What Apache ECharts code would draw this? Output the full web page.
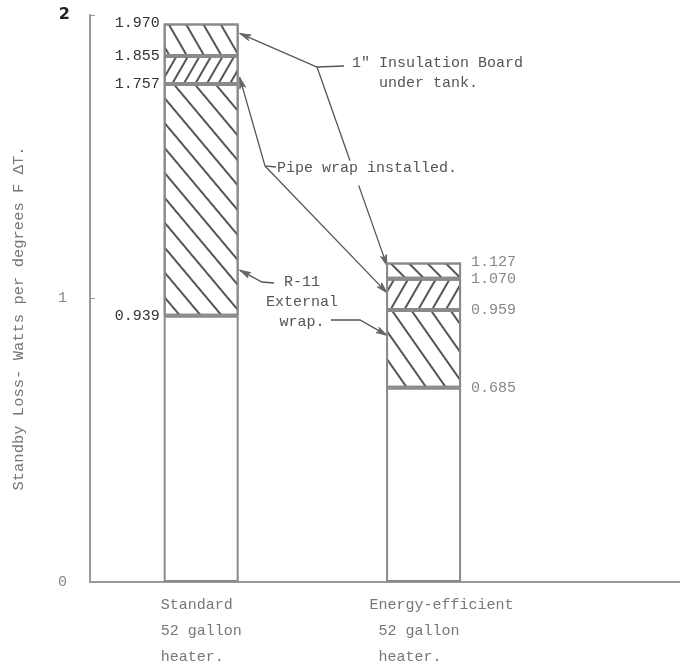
<!DOCTYPE html>
<html>
<head>
<meta charset="utf-8">
<script src="https://cdn.jsdelivr.net/npm/echarts@6/dist/echarts.min.js"></script>
<style>html,body{margin:0;padding:0;background:#fff}#c{width:680px;height:661px}</style>
</head>
<body>
<div id="c"></div>
<script>
// ---- data ----
const categories = ['', 'Standard\n52 gallon\nheater.', '', '', 'Energy-efficient\n52 gallon\nheater.', '', '', ''];
const layerNames = ['Base', 'R-11 External wrap', 'Pipe wrap installed', '1" Insulation Board under tank'];
const standardLevels = [0.939, 1.757, 1.855, 1.970];
const efficientLevels = [0.685, 0.959, 1.070, 1.127];
const standardIndex = 1;
const efficientIndex = 4;
const yTicks = [0, 1, 2];

const FONT = 'Liberation Mono';
const chart = echarts.init(document.getElementById('c'));
const BAR_W = 75;

// deg > 0 : "\" lines, deg < 0 : "/" lines
function hatch(deg, gap) {
  return {
    symbol: 'rect', symbolSize: 1,
    dashArrayX: [1, 0], dashArrayY: [1.3, gap],
    rotation: deg * Math.PI / 180,
    color: '#555'
  };
}
// hatch styles per layer [standard, efficient]
const hatches = [
  [null, null],
  [hatch(50, 14), hatch(55, 14)],
  [hatch(-60, 8), hatch(-60, 10)],
  [hatch(60, 13), hatch(45, 11)]
];

function segs(levels) {
  return levels.map((v, i) => +(v - (i ? levels[i - 1] : 0)).toFixed(3));
}
const stdSeg = segs(standardLevels), effSeg = segs(efficientLevels);

const series = layerNames.map((name, li) => {
  const data = categories.map(() => '-');
  data[standardIndex] = {
    value: stdSeg[li],
    itemStyle: hatches[li][0] ? { decal: hatches[li][0] } : {},
    label: {
      show: true, formatter: standardLevels[li].toFixed(3), position: [-4, 0],
      align: 'right', verticalAlign: 'middle', fontFamily: FONT, fontSize: 15, color: '#333'
    }
  };
  data[efficientIndex] = {
    value: effSeg[li],
    itemStyle: hatches[li][1] ? { decal: hatches[li][1] } : {},
    label: {
      show: true, formatter: efficientLevels[li].toFixed(3), position: ['100%', 0], offset: [10, 0],
      align: 'left', verticalAlign: 'middle', fontFamily: FONT, fontSize: 15, color: '#888'
    }
  };
  return {
    name, type: 'bar', stack: 'loss', barWidth: BAR_W, data,
    itemStyle: { color: '#fff', borderColor: '#8a8a8a', borderWidth: 2 },
    emphasis: { disabled: true }
  };
});

chart.setOption({
  animation: false,
  backgroundColor: '#fff',
  grid: { left: 90, top: 15, bottom: 79, width: 593, containLabel: false, outerBoundsMode: 'none' },
  xAxis: {
    type: 'category', data: categories,
    axisLine: { lineStyle: { color: '#999', width: 2 } },
    axisTick: { show: false },
    axisLabel: {
      interval: 0, margin: 10, lineHeight: 26,
      fontFamily: FONT, fontSize: 15, color: '#777',
      formatter: (v) => {
        if (!v) return '';
        const lines = v.split('\n');
        const w = Math.max(...lines.map(l => l.length));
        if (v.startsWith('Energy')) {
          return lines.map((l, i) => '{e|' + ((i ? ' ' : '') + l).padEnd(w) + '}').join('\n');
        }
        return lines.map(l => '{s|' + l.padEnd(w) + '}').join('\n');
      },
      rich: {
        s: { fontFamily: FONT, fontSize: 15, color: '#777', lineHeight: 26 },
        e: { fontFamily: FONT, fontSize: 15, color: '#777', lineHeight: 26, padding: [0, 0, 0, 36] }
      }
    }
  },
  yAxis: {
    type: 'value', min: yTicks[0], max: yTicks[yTicks.length - 1], interval: 1,
    name: 'Standby Loss- Watts per degrees F ΔT.',
    nameLocation: 'middle', nameGap: 63, nameRotate: 90,
    nameTextStyle: { fontFamily: FONT, fontSize: 15.5, color: '#777', padding: [0, 40, 0, 0] },
    axisLine: { show: true, lineStyle: { color: '#999', width: 2 } },
    axisTick: { show: true, inside: true, length: 5, lineStyle: { color: '#999' } },
    splitLine: { show: false },
    axisLabel: {
      margin: 20,
      formatter: (v) => v === 2 ? '{b|2}' : '{n|' + v + '}',
      rich: {
        b: { fontFamily: 'DejaVu Sans', fontWeight: 'bold', fontSize: 16, color: '#222' },
        n: { fontFamily: FONT, fontSize: 15, color: '#888', padding: [0, 3, 0, 0] }
      }
    }
  },
  series
});

// ---- annotations (anchored to bar geometry) ----
function px(cat, v) { return chart.convertToPixel({ gridIndex: 0 }, [cat, v]); }
const stdR = px(standardIndex, 0)[0] + BAR_W / 2;
const effL = px(efficientIndex, 0)[0] - BAR_W / 2;
const Y = (v) => px(0, v)[1];
const LC = '#555';

function line(points) {
  return { type: 'polyline', shape: { points }, style: { stroke: LC, lineWidth: 1.3, fill: null }, silent: true };
}
function arrow(tip, from) {
  const dx = tip[0] - from[0], dy = tip[1] - from[1];
  const L = Math.hypot(dx, dy), ux = dx / L, uy = dy / L;
  const len = 11, w = 3;
  const b = [tip[0] - ux * len, tip[1] - uy * len];
  return {
    type: 'polygon',
    shape: { points: [tip, [b[0] - uy * w, b[1] + ux * w], [tip[0] - ux * len * 0.75, tip[1] - uy * len * 0.75], [b[0] + uy * w, b[1] - ux * w]] },
    style: { fill: '#666', stroke: '#666', lineWidth: 1 }, silent: true
  };
}
function text(x, y, t, align) {
  return {
    type: 'text', x, y, silent: true,
    style: { text: t, fontFamily: FONT, fontSize: 15, fill: '#555', align: align || 'left', verticalAlign: 'middle', lineHeight: 20 }
  };
}

const els = [];
// 1" Insulation board
const bTip1 = [stdR + 1, Y(1.935)], bJ = [317, 67];
els.push(line([bTip1, bJ, [344, 66]]), arrow(bTip1, bJ));
const bTip2 = [effL + 1, Y(1.115)];
const bA = [bJ[0] + (bTip2[0] - bJ[0]) * 0.47, bJ[1] + (bTip2[1] - bJ[1]) * 0.47];
const bB = [bJ[0] + (bTip2[0] - bJ[0]) * 0.595, bJ[1] + (bTip2[1] - bJ[1]) * 0.595];
els.push(line([bJ, bA]), line([bB, bTip2]), arrow(bTip2, bJ));
els.push(text(352, 73, '1" Insulation Board\n   under tank.'));
// Pipe wrap
const pTip1 = [stdR + 1, Y(1.78)], pJ = [265, 166];
els.push(line([pTip1, pJ, [276, 167]]), arrow(pTip1, pJ));
const pTip2 = [effL + 1, Y(1.02)];
els.push(line([pJ, pTip2]), arrow(pTip2, pJ));
els.push(text(277, 168, 'Pipe wrap installed.'));
// R-11 external wrap
const rTip1 = [stdR + 1, Y(1.1)];
els.push(line([[274, 283], [262, 282], rTip1]), arrow(rTip1, [262, 282]));
const rTip2 = [effL + 1, Y(0.87)];
els.push(line([[331, 320], [360, 320], rTip2]), arrow(rTip2, [360, 320]));
els.push(text(302, 302, 'R-11\nExternal\nwrap.', 'center'));

chart.setOption({ graphic: { elements: els } });
</script>
</body>
</html>
